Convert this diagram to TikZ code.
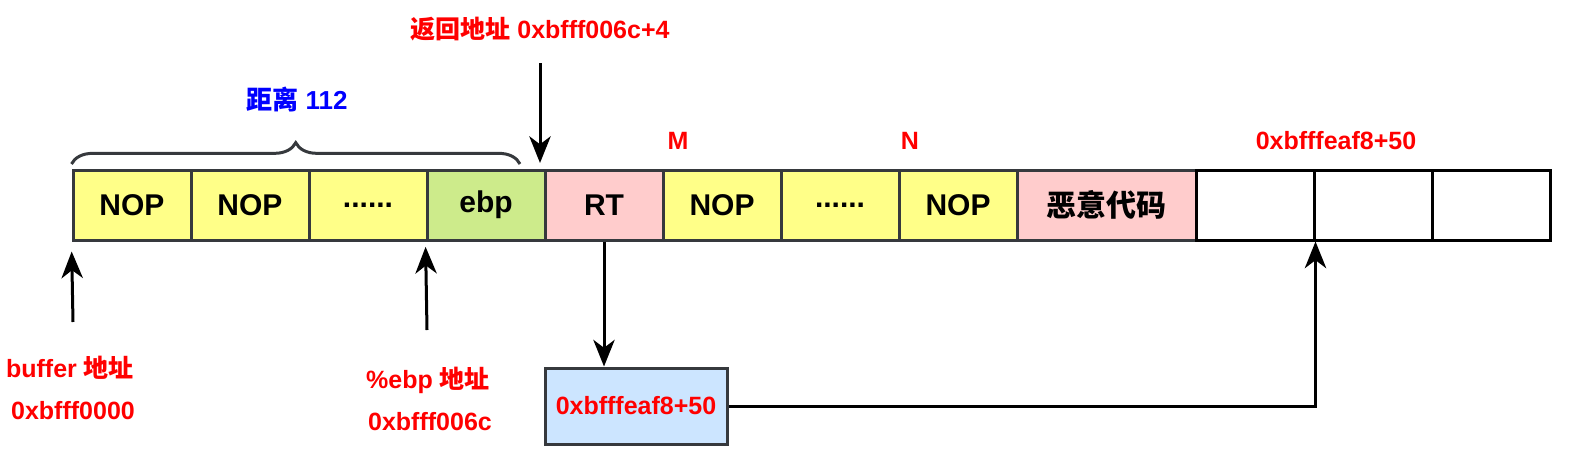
\documentclass[tikz,border=0pt]{standalone}
\usepackage{fontspec}
\setmainfont{Liberation Sans}
\newfontfamily\cjk{Noto Sans CJK SC}
\usetikzlibrary{arrows.meta}
\usetikzlibrary{decorations.pathreplacing}

\definecolor{nopfill}{HTML}{FFFF88}
\definecolor{ebpfill}{HTML}{CDEB8B}
\definecolor{rtfill}{HTML}{FFCCCC}
\definecolor{addrfill}{HTML}{CCE5FF}
\definecolor{edge}{HTML}{36393D}

\begin{document}
\begin{tikzpicture}
[x=0.75pt,y=-0.75pt,%
  cell/.style={shape=rectangle,draw=edge,line width=2.25pt,inner sep=0pt,%
    minimum width=88.5pt,minimum height=52.5pt,font=\fontsize{22.5}{24}\bfseries},%
  emptycell/.style={cell,draw=black,fill=white},%
  lbl/.style={inner sep=0pt,text=red,font=\fontsize{18.75}{20}\bfseries},%
  arr/.style={-{Stealth[length=20pt,width=16pt,inset=6pt]},line width=2.25pt}]
\useasboundingbox (0,0) rectangle (1575,457);
% memory cells
\node[cell,fill=nopfill] (c1) at (132,205) {NOP};
\node[cell,fill=nopfill] (c2) at (250,205) {NOP};
\node[cell,fill=nopfill] (c3) at (368,205) {......};
\node[cell,fill=ebpfill] (c4) at (486,205) {ebp};
\node[cell,fill=rtfill] (rt) at (604,205) {RT};
\node[cell,fill=nopfill] (c6) at (722,205) {NOP};
\node[cell,fill=nopfill] (c7) at (840,205) {......};
\node[cell,fill=nopfill] (c8) at (958,205) {NOP};
\node[cell,fill=rtfill,minimum width=134.25pt] (evil) at (1106.5,205) {\cjk 恶意代码};
\node[emptycell] (c10) at (1255,205) {};
\node[emptycell] (c11) at (1373,205) {};
\node[emptycell] (c12) at (1491,205) {};
% brace over the buffer
\draw[decorate,decoration={brace,amplitude=16pt},draw=edge,line width=2.25pt]
  (c1.north west |- 0,164) -- (520,164);
\node[inner sep=0pt,text=blue,font=\fontsize{19.5}{20}\bfseries] (dist) at (297,100) {{\cjk 距离} 112};
% labels
\node[lbl] (ret) at (540,29) {{\cjk 返回地址} 0xbfff006c+4};
\node[lbl] (m) at (678,141) {M};
\node[lbl] (n) at (910,141) {N};
\node[lbl] (tgt) at (1336,141) {0xbfffeaf8+50};
\node[lbl] (buf) at (70,368) {buffer {\cjk 地址}};
\node[lbl] (bufaddr) at (73,411) {0xbfff0000};
\node[lbl] (ebp) at (428,380) {\%ebp {\cjk 地址}};
\node[lbl] (ebpaddr) at (430,422) {0xbfff006c};
\node[cell,fill=addrfill,minimum width=136.5pt,minimum height=57pt,font=\fontsize{18.75}{20}\bfseries,text=red]
  (box) at (636,406) {0xbfffeaf8+50};
% arrows
\coordinate (rettop) at (540,63);
\coordinate (retend) at (540,163);
\coordinate (bufbot) at (73,322);
\coordinate (ebpbot) at (427,330);
\draw[arr] (rettop) -- (retend);
\draw[arr,shorten >=7.5pt] (bufbot) -- (c1.south west);
\draw[arr,shorten >=4pt] (ebpbot) -- (c4.south west);
\draw[arr] (rt.south) -- (rt.south |- box.north);
\draw[arr] (box.east) -| (c10.south east);
\end{tikzpicture}
\end{document}
